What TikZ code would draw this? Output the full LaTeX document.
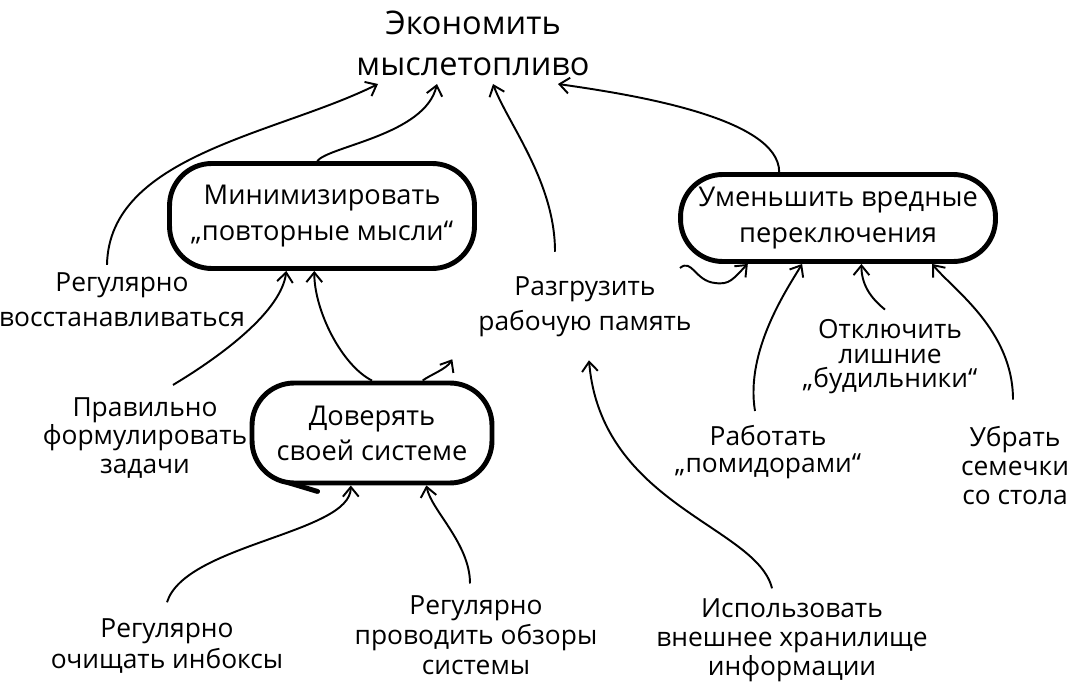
\documentclass[tikz,border=0pt]{standalone}
\usepackage{fontspec}
\setmainfont{Open Sans}
\usetikzlibrary{arrows.meta,calc}
\begin{document}
\begin{tikzpicture}[x=0.02cm,y=-0.02cm,>={Straight Barb[length=5.5pt,width=9pt]},
	blob/.style={draw,line width=2.8pt,rounded corners=24pt,align=center,font=\fontsize{15.5}{20}\selectfont},
	lab/.style={align=center,inner sep=1pt,font=\fontsize{15}{#1}\selectfont},lab/.default=20,
	link/.style={->,line width=1.1pt}]
		\useasboundingbox (0,0) rectangle (1077,689);
		\node[anchor=south,inner sep=0pt,align=center,font=\fontsize{18.5}{23}\selectfont] (fuel) at (473,76) {Экономить\\мыслетопливо};
		\node[blob,minimum width=6.1cm,minimum height=2.1cm] (rep) at (322,216) {Минимизировать\\„повторные мысли“};
		\node[blob,minimum width=6.3cm,minimum height=1.74cm] (switch) at (838,218) {Уменьшить вредные\\переключения};
		\node[blob,minimum width=4.8cm,minimum height=2cm] (trust) at (372,433) {Доверять\\своей системе};
		\draw[line width=2.8pt,line cap=round] ($(trust.south west)+(38,-3)$) -- ++(30,9);
		\node[lab] (rest) at (122,300) {Регулярно\\восстанавливаться};
		\node[lab=16] (form) at (145,438) {Правильно\\формулировать\\задачи};
		\node[lab] (mem) at (585,307) {Разгрузить\\рабочую память};
		\node[lab=14] (alarm) at (890,357) {Отключить\\лишние\\„будильники“};
		\node[lab=15.5] (pomo) at (768,452) {Работать\\„помидорами“};
		\node[lab=16.5] (seeds) at (1015,466) {Убрать\\семечки\\со стола};
		\node[lab=18] (inbox) at (167,646) {Регулярно\\очищать инбоксы};
		\node[lab=17] (review) at (476,635) {Регулярно\\проводить обзоры\\системы};
		\node[lab=16.5] (store) at (792,640) {Использовать\\внешнее хранилище\\информации};
		\coordinate (wig) at (680,268);
		\draw[link] ($(rest.north)+(-15,-6)$) .. controls +(2,-110) and +(-100,50) .. ($(fuel.south)+(-95,8)$);
		\draw[link] (rep.95) .. controls +(12,-15) and +(-12,51) .. ($(fuel.south)+(-36,8)$);
		\draw[link] ($(mem.north)+(-30,-23)$) .. controls +(0,-70) and +(15,40) .. ($(fuel.south)+(20,8)$);
		\draw[link] (switch.142) .. controls +(0,-55) and +(70,10) .. ($(fuel.south)+(85,8)$);
		\draw[link] ($(form.north)+(28,-11)$) .. controls +(50,-30) and +(-5,40) .. (rep.-123);
		\draw[link] (trust.90) .. controls +(-30,-15) and +(0,40) .. (rep.-98);
		\draw[link] (trust.46) .. controls +(8,-6) and +(-6,10) .. ($(mem.south west)+(-24,20)$);
		\draw[link] (wig) .. controls +(12,-10) and +(-20,-2) .. ++(35,15) .. controls +(15,2) and +(-15,15) .. (switch.-153);
		\draw[link] ($(pomo.north)+(-13,-12)$) .. controls +(-10,-60) and +(-15,25) .. (switch.-128);
		\draw[link] ($(alarm.north)+(-5,-8)$) .. controls +(-15,-12) and +(0,20) .. (switch.-63);
		\draw[link] ($(seeds.north)+(-2,-25)$) .. controls +(0,-70) and +(20,25) .. (switch.-26);
		\draw[link] ($(store.north)+(-20,-8)$) .. controls +(-15,-62) and +(12,145) .. ($(mem.south)+(4,21)$);
		\draw[link] ($(inbox.north)+(0,-14)$) .. controls +(18,-58) and +(0,48) .. (trust.-112);
		\draw[link] ($(review.north)+(-6,-10)$) .. controls +(0,-40) and +(5,25) .. (trust.-44);
	\end{tikzpicture}
\end{document}
